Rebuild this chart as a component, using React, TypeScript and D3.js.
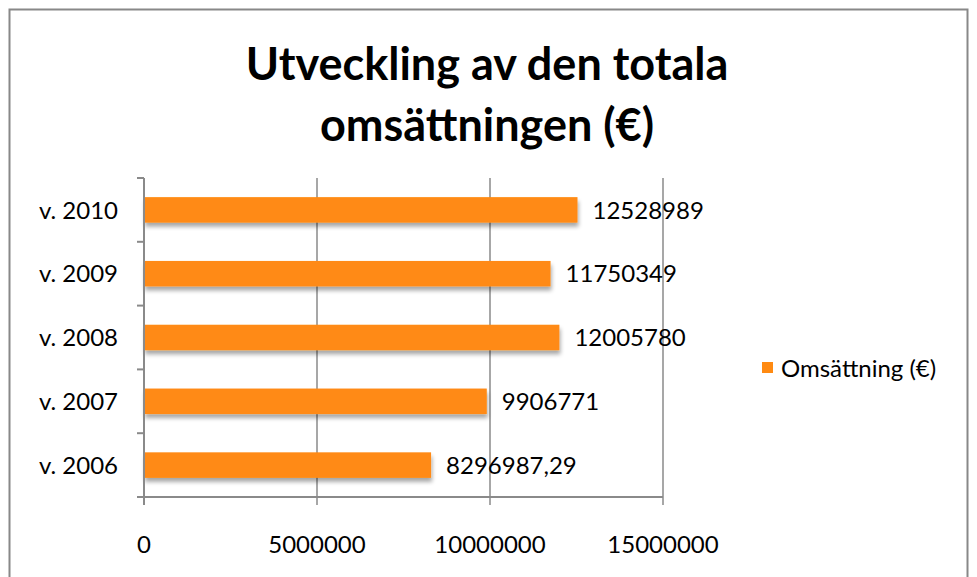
import React, { useEffect, useRef } from 'react';
import * as d3 from 'd3';

const categories = ['v. 2006', 'v. 2007', 'v. 2008', 'v. 2009', 'v. 2010'];
const values = [8296987.29, 9906771, 12005780, 11750349, 12528989];
const valueLabels = ['8296987,29', '9906771', '12005780', '11750349', '12528989'];
const xTicks = [0, 5000000, 10000000, 15000000];
const seriesName = 'Omsättning (€)';
const titleLines = ['Utveckling av den totala', 'omsättningen (€)'];

const W = 977;
const H = 577;
const FONT = 'Lato, "Open Sans", sans-serif';
const ORANGE = '#ff8a12';
const LABEL_SIZE = 24;

const App: React.FC = () => {
  const svgRef = useRef<SVGSVGElement | null>(null);

  useEffect(() => {
    const svg = d3.select(svgRef.current);
    svg.selectAll('*').remove();

    const margin = { top: 178, left: 144, right: 314, bottom: 80 };
    const x = d3.scaleLinear().domain([0, 15000000]).range([margin.left, W - margin.right]);
    const y = d3.scaleBand().domain([...categories].reverse()).range([margin.top, H - margin.bottom]).paddingInner(0.6).paddingOuter(0.3);

    // drop shadow for bars
    const defs = svg.append('defs');
    const f = defs.append('filter').attr('id', 'shadow').attr('x', '-5%').attr('y', '-30%').attr('width', '110%').attr('height', '190%');
    f.append('feGaussianBlur').attr('in', 'SourceAlpha').attr('stdDeviation', 2);
    f.append('feOffset').attr('dx', 1).attr('dy', 4).attr('result', 'off');
    f.append('feComponentTransfer').append('feFuncA').attr('type', 'linear').attr('slope', 0.35);
    const m = f.append('feMerge');
    m.append('feMergeNode');
    m.append('feMergeNode').attr('in', 'SourceGraphic');

    // outer frame
    svg.append('rect').attr('x', 9.5).attr('y', 9.5).attr('width', 958).attr('height', 600)
      .attr('fill', 'white').attr('stroke', '#888').attr('stroke-width', 2);

    // title
    const title = svg.append('text').attr('text-anchor', 'middle').attr('font-family', FONT)
      .attr('font-weight', 'bold').attr('font-size', 45).attr('fill', '#000');
    titleLines.forEach((t, i) => {
      title.append('tspan').attr('x', 487).attr('y', 80 + i * 61).text(t);
    });

    const y0 = margin.top;
    const y1 = H - margin.bottom;

    // gridlines
    svg.append('g').selectAll('line').data(xTicks.slice(1)).join('line')
      .attr('x1', (d) => x(d)).attr('x2', (d) => x(d)).attr('y1', y0).attr('y2', y1 + 8)
      .attr('stroke', '#8a8a8a').attr('stroke-width', 1.5);

    // bars
    svg.append('g').selectAll('rect').data(values).join('rect')
      .attr('x', x(0))
      .attr('y', (_, i) => y(categories[i])!)
      .attr('width', (d) => x(d) - x(0))
      .attr('height', y.bandwidth())
      .attr('fill', ORANGE)
      .attr('filter', 'url(#shadow)');

    // value labels
    svg.append('g').selectAll('text').data(values).join('text')
      .attr('x', (d) => x(d) + 15)
      .attr('y', (_, i) => y(categories[i])! + y.bandwidth() / 2)
      .attr('dy', '0.36em')
      .attr('font-family', FONT).attr('font-size', LABEL_SIZE).attr('fill', '#000')
      .text((_, i) => valueLabels[i]);

    // y axis
    const step = (y1 - y0) / categories.length;
    svg.append('line').attr('x1', x(0)).attr('x2', x(0)).attr('y1', y0).attr('y2', y1)
      .attr('stroke', '#8a8a8a').attr('stroke-width', 2);
    svg.append('g').selectAll('line').data(d3.range(categories.length + 1)).join('line')
      .attr('x1', x(0) - 7).attr('x2', x(0)).attr('y1', (i) => y0 + i * step).attr('y2', (i) => y0 + i * step)
      .attr('stroke', '#8a8a8a').attr('stroke-width', 2);
    svg.append('g').selectAll('text').data(categories).join('text')
      .attr('x', x(0) - 26)
      .attr('y', (d) => y(d)! + y.bandwidth() / 2)
      .attr('dy', '0.36em').attr('text-anchor', 'end')
      .attr('font-family', FONT).attr('font-size', LABEL_SIZE).attr('fill', '#000')
      .text((d) => d);

    // x axis
    svg.append('line').attr('x1', x(0) - 7).attr('x2', x(15000000)).attr('y1', y1).attr('y2', y1)
      .attr('stroke', '#8a8a8a').attr('stroke-width', 2);
    svg.append('line').attr('x1', x(0)).attr('x2', x(0)).attr('y1', y1).attr('y2', y1 + 8)
      .attr('stroke', '#8a8a8a').attr('stroke-width', 2);
    svg.append('g').selectAll('text').data(xTicks).join('text')
      .attr('x', (d) => x(d)).attr('y', y1 + 56).attr('text-anchor', 'middle')
      .attr('font-family', FONT).attr('font-size', LABEL_SIZE).attr('fill', '#000')
      .text((d) => String(d));

    // legend
    svg.append('rect').attr('x', 762).attr('y', 362).attr('width', 11).attr('height', 11).attr('fill', ORANGE);
    svg.append('text').attr('x', 781).attr('y', 368).attr('dy', '0.36em')
      .attr('font-family', FONT).attr('font-size', LABEL_SIZE).attr('fill', '#000').text(seriesName);
  }, []);

  return (
    <svg ref={svgRef} width={W} height={H}
      style={{ position: 'fixed', left: 0, top: 0, background: 'white' }} />
  );
};

export default App;
